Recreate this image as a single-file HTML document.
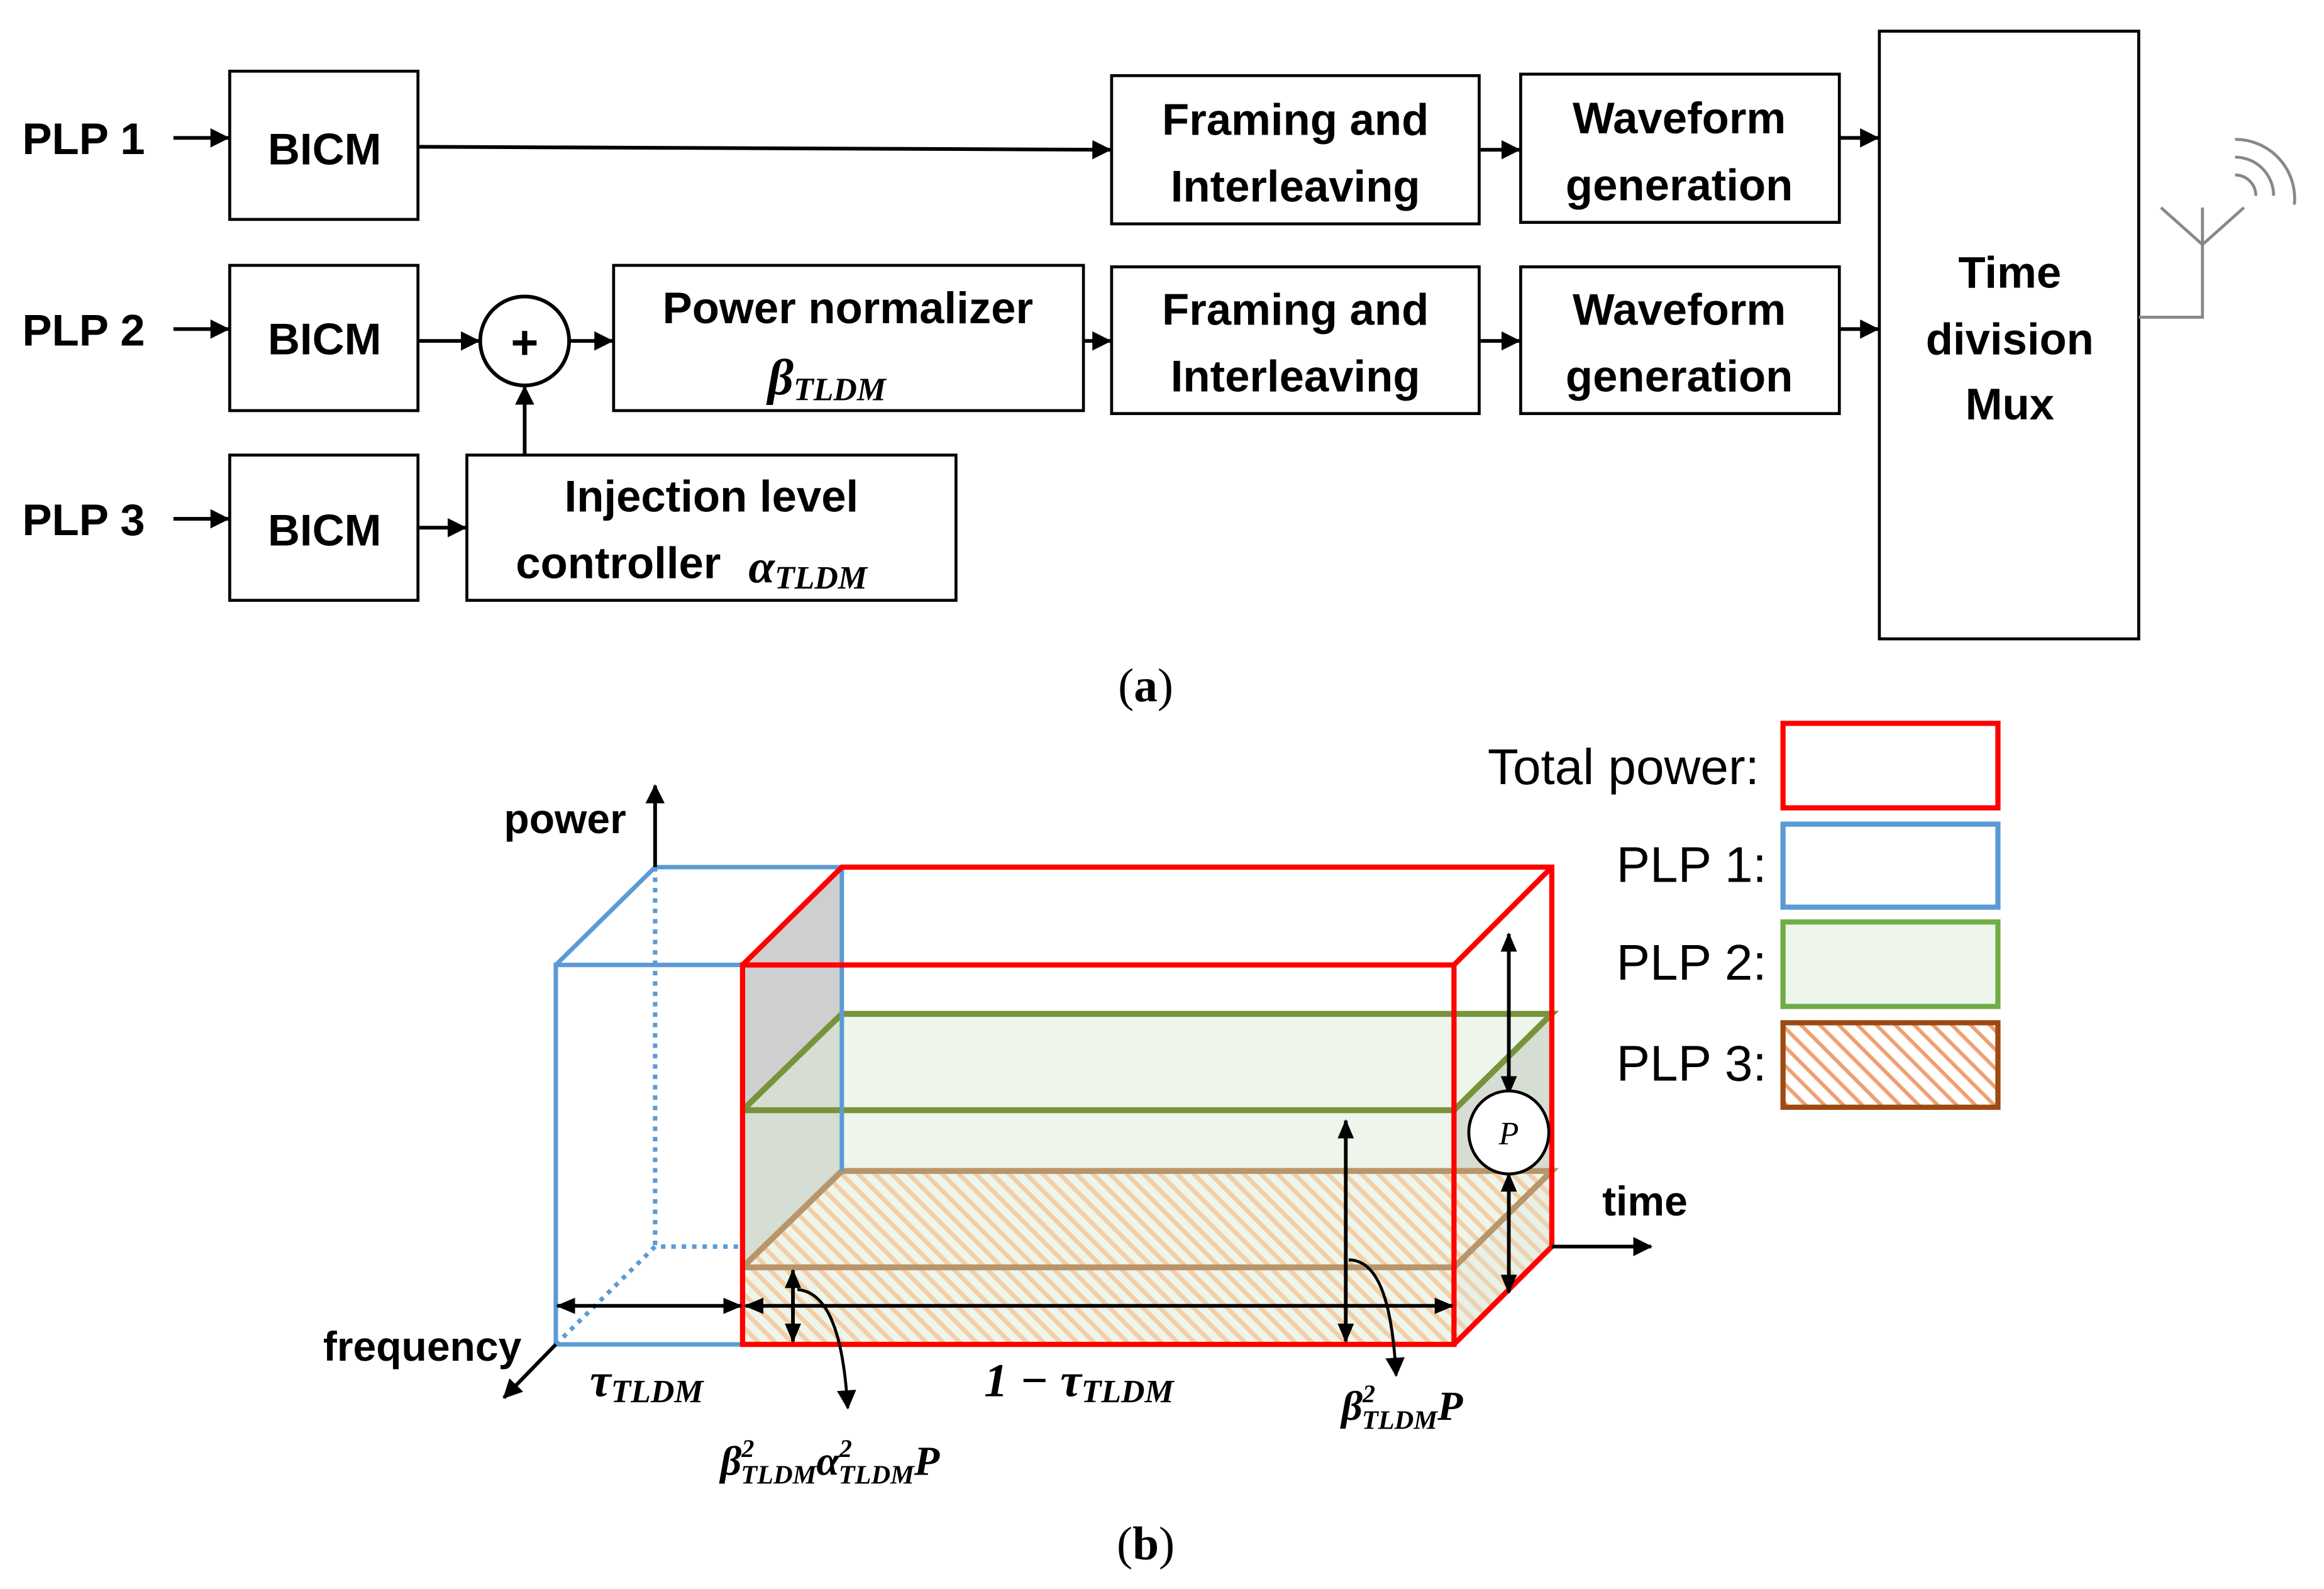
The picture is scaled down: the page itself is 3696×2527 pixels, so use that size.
<!DOCTYPE html>
<html><head><meta charset="utf-8"><style>
html,body{margin:0;padding:0;background:#fff}
svg{display:block}
.b{font-family:"Liberation Sans",sans-serif;font-weight:bold;font-size:30px;fill:#000}
.m{font-family:"Liberation Serif",serif;font-style:italic;font-weight:bold;fill:#000}
.n{font-family:"Liberation Sans",sans-serif;font-size:34px;fill:#000}
.c{font-family:"Liberation Serif",serif;font-size:32px;fill:#000}
</style></head><body>
<svg width="3696" height="2527" viewBox="0 0 1568 1072" xmlns="http://www.w3.org/2000/svg">
<defs>
<marker id="a" markerWidth="13" markerHeight="13" refX="12" refY="6.5" orient="auto" markerUnits="userSpaceOnUse"><path d="M0,0 L13,6.5 L0,13 z" fill="#000"/></marker>
<marker id="as" markerWidth="13" markerHeight="13" refX="12" refY="6.5" orient="auto-start-reverse" markerUnits="userSpaceOnUse"><path d="M0,1 L13,6.5 L0,12 z" fill="#000"/></marker>
<pattern id="h" width="8" height="8" patternUnits="userSpaceOnUse" patternTransform="rotate(-45)">
<rect width="8" height="8" fill="#eef5ea"/><rect x="0" y="0" width="3" height="8" fill="#f2cfa8"/></pattern>
<pattern id="h2" width="9" height="9" patternUnits="userSpaceOnUse" patternTransform="rotate(-45)">
<rect width="9" height="9" fill="#fff"/><rect x="0" y="0" width="2.5" height="9" fill="#f0a070"/></pattern>
</defs>
<g stroke="#000" stroke-width="2" fill="none">
<rect x="155" y="48" width="127" height="100"/>
<rect x="155" y="179" width="127" height="98"/>
<rect x="155" y="307" width="127" height="98"/>
<rect x="750" y="51" width="248" height="100"/>
<rect x="750" y="180" width="248" height="99"/>
<rect x="1026" y="50" width="215" height="100"/>
<rect x="1026" y="180" width="215" height="99"/>
<rect x="1268" y="21" width="175" height="410"/>
<rect x="414" y="179" width="317" height="98"/>
<rect x="315" y="307" width="330" height="98"/>
<circle cx="354" cy="230" r="30" stroke-width="2.5"/>
</g>
<g stroke="#000" stroke-width="2.5" fill="none" marker-end="url(#a)">
<line x1="117" y1="93" x2="154" y2="93"/>
<line x1="117" y1="222" x2="154" y2="222"/>
<line x1="117" y1="350" x2="154" y2="350"/>
<line x1="283" y1="99" x2="749" y2="101"/>
<line x1="283" y1="230" x2="323" y2="230"/>
<line x1="385" y1="230" x2="413" y2="230"/>
<line x1="283" y1="356" x2="314" y2="356"/>
<line x1="354" y1="307" x2="354" y2="261"/>
<line x1="732" y1="230" x2="749" y2="230"/>
<line x1="999" y1="101" x2="1025" y2="101"/>
<line x1="999" y1="230" x2="1025" y2="230"/>
<line x1="1242" y1="93" x2="1267" y2="93"/>
<line x1="1242" y1="222" x2="1267" y2="222"/>
</g>
<text x="354" y="242" text-anchor="middle" style="font-family:'Liberation Sans';font-weight:bold;font-size:32px">+</text>
<g stroke="#888" stroke-width="2" fill="none">
<polyline points="1443,214 1486,214 1486,140"/>
<line x1="1486" y1="165" x2="1458" y2="140"/><line x1="1486" y1="165" x2="1514" y2="140"/>
<path d="M1508,118 a14,14 0 0 1 14,14"/><path d="M1508,106 a26,26 0 0 1 26,26"/><path d="M1508,94 a40,40 0 0 1 40,44"/>
</g>
<g class="b">
<text x="15" y="104">PLP 1</text><text x="15" y="233">PLP 2</text><text x="15" y="361">PLP 3</text>
<text x="219" y="111" text-anchor="middle">BICM</text><text x="219" y="239" text-anchor="middle">BICM</text><text x="219" y="368" text-anchor="middle">BICM</text>
<text x="874" y="91" text-anchor="middle">Framing and</text><text x="874" y="136" text-anchor="middle">Interleaving</text>
<text x="874" y="219" text-anchor="middle">Framing and</text><text x="874" y="264" text-anchor="middle">Interleaving</text>
<text x="1133" y="90" text-anchor="middle">Waveform</text><text x="1133" y="135" text-anchor="middle">generation</text>
<text x="1133" y="219" text-anchor="middle">Waveform</text><text x="1133" y="264" text-anchor="middle">generation</text>
<text x="1356" y="194" text-anchor="middle">Time</text><text x="1356" y="239" text-anchor="middle">division</text><text x="1356" y="283" text-anchor="middle">Mux</text>
<text x="572" y="218" text-anchor="middle">Power normalizer</text>
<text x="480" y="345" text-anchor="middle">Injection level</text>
<text x="348" y="390">controller</text>
</g>
<text class="m" x="518" y="266" font-size="34">β<tspan font-size="22" dy="4">TLDM</tspan></text>
<text class="m" x="505" y="393" font-size="32">α<tspan font-size="22" dy="4">TLDM</tspan></text>
<text class="c" x="773" y="473" text-anchor="middle">(<tspan font-weight="bold">a</tspan>)</text>
<text class="c" x="773" y="1052" text-anchor="middle">(<tspan font-weight="bold">b</tspan>)</text>

<polygon points="501,651 568,585 568,841 501,907" fill="#cfcfcf"/>
<polygon points="501,749 568,684 1047,684 981,749" fill="#eef5ea"/>
<rect x="501" y="749" width="480" height="158" fill="#eef5ea"/>
<polygon points="501,749 568,684 568,841 501,907" fill="#d6ddd2"/>
<polygon points="981,749 1047,684 1047,841 981,907" fill="#d6ddd2"/>
<polygon points="501,855 568,790 1047,790 981,855" fill="url(#h)"/>
<rect x="501" y="855" width="480" height="52" fill="url(#h)"/>
<polygon points="981,855 1047,790 1047,841 981,907" fill="url(#h)" opacity="0.8"/>
<g stroke="#b8956a" stroke-width="4" fill="none"><polyline points="501,855 568,790 1047,790 981,855 501,855"/></g>
<g stroke="#77933c" stroke-width="4" fill="none"><polyline points="501,749 568,684 1047,684 981,749 501,749"/></g>
<g stroke="#5b9bd5" stroke-width="3" fill="none">
<rect x="375" y="651" width="126" height="256"/>
<polyline points="375,651 442,585 568,585 568,790"/>
<line x1="442" y1="585" x2="442" y2="841" stroke-dasharray="3,4"/>
<polyline points="375,907 442,841 501,841" stroke-dasharray="3,4"/>
</g>
<g stroke="#f00" stroke-width="3.5" fill="none">
<rect x="501" y="651" width="480" height="256"/>
<polyline points="501,651 568,585 1047,585 1047,841 981,907"/>
<line x1="981" y1="651" x2="1047" y2="585"/>
</g>
<g stroke="#000" stroke-width="2.5" fill="none" marker-end="url(#a)">
<line x1="442" y1="585" x2="442" y2="530"/>
<line x1="1047" y1="841" x2="1114" y2="841"/>
<line x1="375" y1="907" x2="340" y2="943"/>
</g>
<g stroke="#000" stroke-width="2.5" fill="none" marker-start="url(#as)" marker-end="url(#as)">
<line x1="376" y1="881" x2="500" y2="881"/>
<line x1="503" y1="881" x2="980" y2="881"/>
<line x1="535" y1="857" x2="535" y2="905"/>
<line x1="908" y1="756" x2="908" y2="905"/>
<line x1="1018" y1="630" x2="1018" y2="738"/>
<line x1="1018" y1="792" x2="1018" y2="872"/>
</g>
<g stroke="#000" stroke-width="2" fill="none" marker-end="url(#a)">
<path d="M538,870 C565,872 570,920 572,950"/>
<path d="M910,850 C935,850 940,895 942,928"/>
</g>
<ellipse cx="1018" cy="764" rx="27" ry="28" fill="#fff" stroke="#000" stroke-width="2"/>
<text x="1018" y="772" text-anchor="middle" style="font-family:'Liberation Serif';font-style:italic;font-size:22px">P</text>
<g class="b" style="font-size:28px">
<text x="340" y="562">power</text><text x="1081" y="820">time</text><text x="218" y="918">frequency</text>
</g>
<text class="m" x="398" y="942" font-size="32">τ<tspan font-size="22" dy="4">TLDM</tspan></text>
<text class="m" x="664" y="942" font-size="32">1 − τ<tspan font-size="22" dy="4">TLDM</tspan></text>
<text class="m" x="905" y="958" font-size="28">β<tspan font-size="17" dy="-12">2</tspan><tspan font-size="18" dx="-9" dy="18">TLDM</tspan><tspan dy="-6">P</tspan></text>
<text class="m" x="486" y="995" font-size="28">β<tspan font-size="17" dy="-12">2</tspan><tspan font-size="18" dx="-9" dy="18">TLDM</tspan><tspan dy="-6">α</tspan><tspan font-size="17" dy="-12">2</tspan><tspan font-size="18" dx="-9" dy="18">TLDM</tspan><tspan dy="-6">P</tspan></text>
<g class="n" text-anchor="end">
<text x="1187" y="529">Total power:</text><text x="1192" y="595">PLP 1:</text><text x="1192" y="661">PLP 2:</text><text x="1192" y="729">PLP 3:</text>
</g>
<rect x="1203" y="488" width="145" height="57" fill="#fff" stroke="#f00" stroke-width="3.5"/>
<rect x="1203" y="556" width="145" height="56" fill="#fff" stroke="#5b9bd5" stroke-width="3.5"/>
<rect x="1203" y="622" width="145" height="57" fill="#eef5ea" stroke="#70ad47" stroke-width="3.5"/>
<rect x="1203" y="690" width="145" height="57" fill="url(#h2)" stroke="#9c4a12" stroke-width="3.5"/>
</svg>
</body></html>
